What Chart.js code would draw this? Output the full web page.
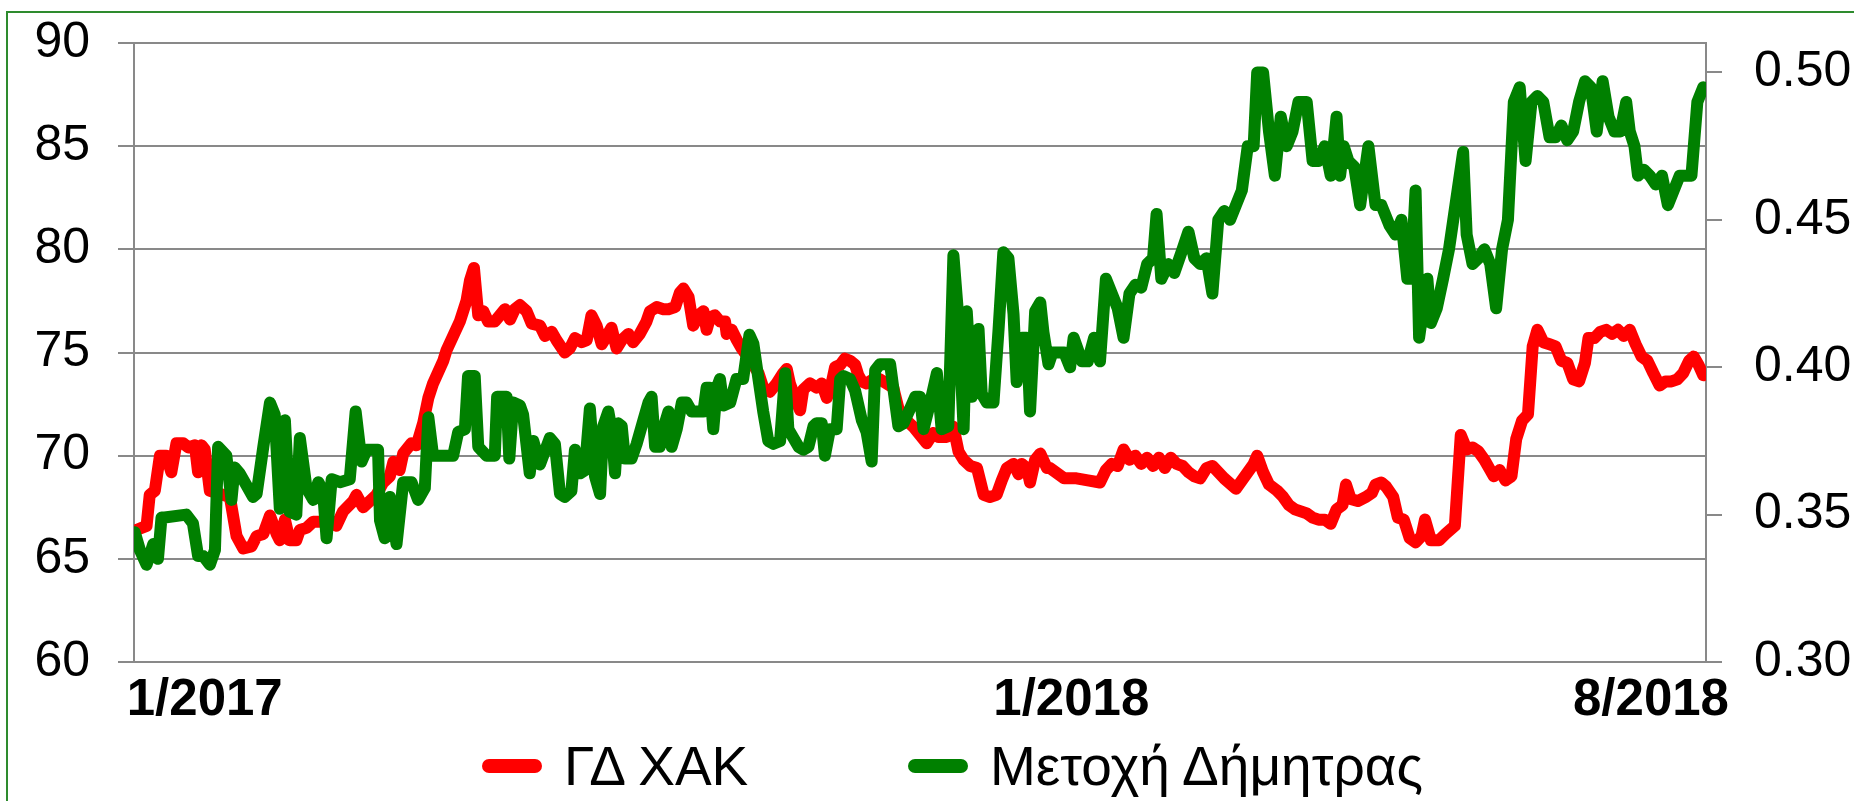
<!DOCTYPE html>
<html>
<head>
<meta charset="utf-8">
<script src="https://cdn.jsdelivr.net/npm/chart.js@4.4.1/dist/chart.umd.min.js"></script>
<style>
  body { margin: 0; background: #fff; }
  #frame { position: absolute; left: 6px; top: 11px; width: 1900px; height: 900px;
           border-left: 2px solid #2e8b2e; border-top: 2px solid #2e8b2e; }
  #wrap { position: absolute; left: 0; top: 0; width: 1854px; height: 801px; }
  #legend { position: absolute; left: 482px; top: 736px; height: 60px; display: flex; align-items: center;
            font-family: 'Liberation Sans', Arial, sans-serif; font-size: 55px; color: #000; }
  .item { display: flex; align-items: center; flex: none; }
  .item:first-child { width: 426px; }
  .swatch { width: 60px; height: 14px; border-radius: 7px; margin-right: 22px; }
</style>
</head>
<body>
<div id="frame"></div>
<div id="wrap"><canvas id="chart" width="1854" height="801"></canvas></div>
<div id="legend"></div>
<script>
// x = trading session counted from the start of January 2017
const tickDays = [18, 238.5, 386];
const tickLabels = ['1/2017', '1/2018', '8/2018'];

// ΓΔ ΧΑΚ (left axis)
const gdDays = [0.6, 3.2, 4.0, 5.3, 6.6, 8.2, 9.5, 10.8, 12.5, 13.8, 15.5, 16.3, 17.2, 18.0, 19.3, 24.4, 26.1, 27.8, 29.9, 31.2,
  32.9, 34.6, 36.3, 37.1, 38.4, 39.6, 41.3, 42.2, 43.9, 45.6, 47.3, 50.7, 51.5, 53.2, 55.8, 56.6, 58.3, 60.0, 61.7, 63.4,
  65.1, 66.0, 67.6, 68.5, 70.6, 71.9, 73.6, 74.9, 76.1, 78.7, 79.5, 81.2, 82.9, 84.6, 85.5, 86.5, 87.6, 88.9, 90.1, 91.8,
  93.1, 94.4, 95.7, 96.9, 98.2, 99.9, 101.2, 103.3, 104.6, 106.3, 107.5, 109.6, 110.9, 112.2, 113.9, 115.2, 116.4, 117.7, 119.0, 120.3,
  121.5, 122.8, 124.1, 125.8, 127.0, 128.7, 130.4, 131.3, 133.0, 134.7, 136.0, 137.7, 138.9, 139.8, 141.1, 142.3, 143.6, 144.9, 145.7, 146.6,
  147.8, 149.1, 150.4, 150.8, 152.1, 153.4, 154.6, 157.6, 158.9, 160.1, 161.8, 163.5, 165.2, 166.1, 166.9, 168.6, 169.5, 170.3, 172.0, 173.7,
  175.0, 176.3, 177.5, 178.4, 179.7, 180.9, 182.2, 183.5, 184.3, 185.2, 186.4, 188.1, 189.8, 193.2, 194.5, 196.6, 198.3, 200.0, 201.7, 203.4,
  204.7, 206.8, 208.5, 209.8, 211.1, 212.8, 214.5, 215.3, 216.2, 217.8, 219.5, 220.8, 222.1, 223.8, 225.1, 225.9, 227.2, 228.0, 229.3, 230.6,
  232.3, 233.1, 236.7, 239.8, 242.7, 245.8, 247.3, 248.8, 250.3, 251.8, 253.3, 254.8, 256.3, 257.8, 259.3, 260.8, 262.3, 263.8, 265.3, 266.8,
  268.3, 269.8, 271.3, 272.9, 274.4, 275.9, 277.4, 280.4, 281.9, 283.4, 284.9, 285.8, 287.3, 288.8, 290.9, 292.4, 293.9, 295.4, 296.9, 298.4,
  299.9, 301.4, 303.0, 304.5, 306.0, 307.5, 308.4, 309.6, 311.4, 313.5, 315.0, 315.9, 317.4, 318.6, 320.4, 321.6, 323.1, 324.6, 326.1, 327.6,
  328.5, 330.0, 332.1, 333.7, 336.1, 337.6, 339.1, 340.6, 342.1, 343.6, 345.1, 346.0, 347.5, 349.0, 350.5, 351.7, 353.2, 354.7, 355.9, 357.1,
  358.6, 360.2, 361.7, 363.2, 364.7, 366.2, 367.7, 369.2, 370.1, 371.6, 373.1, 374.6, 376.1, 377.6, 379.1, 380.6, 382.1, 383.6, 385.1, 386.6,
  388.2, 389.7, 391.2, 392.7, 394.2, 395.7, 396.9, 398.1, 399.3];
const gdValues = [66.4, 66.6, 68.1, 68.3, 70.0, 70.0, 69.2, 70.6, 70.6, 70.4, 70.5, 69.2, 70.5, 70.3, 68.3, 68.0, 66.1, 65.5, 65.6, 66.1,
  66.2, 67.1, 66.2, 65.9, 66.9, 65.9, 65.9, 66.4, 66.5, 66.8, 66.8, 66.8, 66.6, 67.3, 67.8, 68.1, 67.5, 67.8, 68.1, 68.7,
  69.0, 69.7, 69.3, 70.1, 70.6, 70.5, 71.6, 72.8, 73.5, 74.6, 75.1, 75.8, 76.5, 77.5, 78.5, 79.1, 76.8, 77.0, 76.5, 76.5,
  76.8, 77.1, 76.6, 77.1, 77.3, 77.0, 76.4, 76.3, 75.8, 76.0, 75.6, 75.0, 75.2, 75.7, 75.5, 75.6, 76.8, 76.3, 75.4, 75.8,
  76.2, 75.2, 75.6, 75.9, 75.5, 75.9, 76.5, 77.0, 77.2, 77.1, 77.1, 77.2, 77.9, 78.1, 77.7, 76.3, 76.8, 77.0, 76.1, 76.7,
  76.8, 76.5, 76.5, 75.9, 76.1, 75.6, 75.2, 74.4, 74.0, 73.3, 73.1, 73.5, 74.0, 74.2, 73.5, 72.6, 72.2, 73.2, 73.5, 73.3,
  73.5, 72.8, 73.5, 74.3, 74.4, 74.7, 74.6, 74.4, 73.9, 73.6, 73.5, 73.7, 73.7, 73.3, 72.3, 71.7, 71.4, 71.0, 70.6, 71.1,
  70.9, 70.9, 71.4, 70.2, 69.8, 69.5, 69.4, 68.8, 68.1, 68.0, 68.1, 68.8, 69.4, 69.6, 69.1, 69.6, 69.4, 68.7, 69.8, 70.1,
  69.4, 69.4, 68.9, 68.9, 68.8, 68.7, 69.3, 69.6, 69.5, 70.3, 69.8, 70.0, 69.6, 69.9, 69.5, 69.9, 69.4, 69.9, 69.6, 69.5,
  69.2, 69.0, 68.9, 69.4, 69.5, 69.2, 68.9, 68.4, 68.8, 69.2, 69.6, 70.0, 69.2, 68.6, 68.3, 68.0, 67.6, 67.4, 67.3, 67.2,
  67.0, 66.9, 66.9, 66.7, 67.4, 67.6, 68.6, 67.9, 67.8, 68.0, 68.2, 68.6, 68.7, 68.5, 68.0, 67.0, 66.9, 66.0, 65.8, 66.1,
  66.9, 65.9, 65.9, 66.2, 66.6, 71.0, 70.3, 70.4, 70.2, 69.8, 69.3, 69.0, 69.3, 68.8, 69.0, 70.8, 71.7, 72.0, 75.3, 76.1,
  75.5, 75.4, 75.3, 74.6, 74.5, 73.7, 73.6, 74.5, 75.7, 75.7, 76.0, 76.1, 75.9, 76.1, 75.8, 76.1, 75.4, 74.8, 74.6, 74.0,
  73.4, 73.6, 73.6, 73.7, 74.0, 74.6, 74.8, 74.4, 73.9];

// Μετοχή Δήμητρας (right axis)
const shareDays = [0.2, 1.5, 3.2, 4.9, 6.1, 7.0, 7.8, 13.3, 15.0, 16.3, 17.6, 19.3, 20.6, 21.4, 23.5, 24.8, 25.6, 26.9, 30.3, 31.2,
  32.9, 34.6, 35.8, 37.1, 38.4, 39.6, 41.3, 42.2, 43.9, 45.6, 46.9, 48.1, 49.0, 50.3, 52.4, 54.9, 56.4, 57.9, 59.2, 62.1,
  62.6, 63.8, 65.1, 66.8, 68.5, 70.6, 72.3, 74.0, 74.9, 76.1, 81.2, 82.5, 84.2, 85.0, 86.7, 87.6, 89.7, 91.8, 92.4, 94.8,
  95.5, 96.5, 98.2, 99.0, 100.7, 101.6, 103.3, 105.8, 107.1, 108.4, 109.6, 111.3, 112.2, 113.5, 114.7, 116.0, 117.3, 118.6, 119.4, 120.7,
  121.5, 122.4, 123.2, 124.1, 124.9, 126.6, 127.9, 129.6, 130.9, 131.7, 132.6, 133.8, 135.1, 136.0, 136.8, 138.1, 139.4, 140.6, 141.9, 144.9,
  145.7, 146.6, 147.4, 148.3, 149.1, 150.0, 151.7, 153.3, 155.0, 156.6, 157.6, 158.9, 160.1, 161.4, 162.7, 164.4, 165.7, 166.5, 167.8, 169.1,
  170.3, 171.6, 172.9, 173.7, 175.0, 175.8, 177.1, 178.8, 179.7, 180.5, 182.2, 183.5, 185.2, 186.4, 187.7, 188.6, 189.8, 192.4, 193.7, 194.5,
  195.8, 197.5, 198.8, 200.0, 200.9, 202.6, 204.3, 205.5, 207.2, 208.5, 209.8, 211.1, 211.9, 213.2, 214.9, 215.7, 217.0, 218.7, 220.0, 221.2,
  222.5, 223.8, 224.6, 225.9, 227.2, 228.0, 229.3, 230.6, 231.4, 232.7, 233.7, 236.7, 238.2, 239.1, 241.2, 242.7, 244.3, 245.8, 247.3, 248.8,
  250.3, 251.8, 253.3, 254.8, 256.3, 257.8, 259.3, 260.2, 261.4, 263.2, 264.7, 266.8, 268.3, 269.8, 271.3, 272.9, 274.4, 275.9, 277.4, 278.9,
  280.4, 281.9, 283.4, 284.9, 285.8, 287.3, 288.8, 290.3, 291.8, 293.3, 294.8, 296.3, 298.4, 299.9, 301.4, 303.0, 304.5, 306.0, 306.9, 307.8,
  309.0, 310.5, 312.0, 314.1, 315.9, 317.4, 319.5, 321.0, 322.5, 324.0, 324.9, 326.1, 327.0, 329.1, 330.0, 331.5, 333.1, 334.6, 338.2, 339.1,
  340.6, 342.1, 343.6, 345.1, 346.6, 348.1, 349.6, 351.1, 352.6, 354.1, 355.6, 357.1, 358.6, 360.2, 361.7, 363.2, 364.7, 366.2, 367.7, 369.2,
  370.7, 372.2, 373.7, 375.2, 376.7, 378.2, 379.7, 380.6, 381.8, 382.7, 384.2, 385.7, 387.2, 388.8, 390.3, 391.8, 393.3, 394.8, 396.3, 397.8,
  399.3];
const shareValues = [0.344, 0.338, 0.333, 0.340, 0.335, 0.349, 0.349, 0.350, 0.347, 0.336, 0.336, 0.333, 0.338, 0.373, 0.370, 0.355, 0.366, 0.364, 0.356, 0.357,
  0.373, 0.388, 0.384, 0.352, 0.382, 0.351, 0.350, 0.376, 0.359, 0.355, 0.361, 0.358, 0.342, 0.362, 0.361, 0.362, 0.385, 0.368, 0.372, 0.372,
  0.348, 0.342, 0.356, 0.340, 0.361, 0.361, 0.355, 0.359, 0.383, 0.370, 0.370, 0.378, 0.379, 0.397, 0.397, 0.373, 0.370, 0.370, 0.390, 0.390,
  0.369, 0.388, 0.387, 0.384, 0.364, 0.375, 0.367, 0.376, 0.374, 0.357, 0.356, 0.358, 0.372, 0.364, 0.365, 0.386, 0.363, 0.357, 0.380, 0.385,
  0.379, 0.364, 0.381, 0.380, 0.369, 0.369, 0.374, 0.382, 0.388, 0.390, 0.373, 0.373, 0.381, 0.385, 0.373, 0.379, 0.388, 0.388, 0.385, 0.385,
  0.393, 0.393, 0.379, 0.393, 0.396, 0.387, 0.388, 0.396, 0.396, 0.411, 0.408, 0.396, 0.385, 0.375, 0.374, 0.375, 0.398, 0.379, 0.376, 0.373,
  0.372, 0.373, 0.380, 0.381, 0.381, 0.370, 0.379, 0.379, 0.396, 0.397, 0.396, 0.392, 0.382, 0.378, 0.368, 0.399, 0.401, 0.401, 0.388, 0.380,
  0.381, 0.386, 0.390, 0.390, 0.379, 0.388, 0.398, 0.379, 0.380, 0.438, 0.416, 0.379, 0.419, 0.390, 0.413, 0.391, 0.388, 0.388, 0.413, 0.439,
  0.437, 0.418, 0.395, 0.410, 0.410, 0.385, 0.419, 0.422, 0.412, 0.401, 0.405, 0.405, 0.400, 0.410, 0.402, 0.402, 0.410, 0.402, 0.430, 0.425,
  0.420, 0.410, 0.425, 0.428, 0.427, 0.435, 0.437, 0.452, 0.430, 0.435, 0.432, 0.440, 0.446, 0.437, 0.435, 0.437, 0.425, 0.450, 0.453, 0.450,
  0.455, 0.460, 0.475, 0.475, 0.500, 0.500, 0.480, 0.465, 0.485, 0.475, 0.480, 0.490, 0.490, 0.470, 0.470, 0.475, 0.465, 0.485, 0.465, 0.475,
  0.470, 0.468, 0.455, 0.475, 0.455, 0.455, 0.448, 0.445, 0.450, 0.430, 0.430, 0.460, 0.410, 0.430, 0.415, 0.420, 0.430, 0.440, 0.473, 0.445,
  0.435, 0.437, 0.440, 0.435, 0.420, 0.440, 0.450, 0.490, 0.495, 0.470, 0.490, 0.492, 0.490, 0.478, 0.478, 0.482, 0.477, 0.480, 0.490, 0.497,
  0.495, 0.480, 0.497, 0.485, 0.480, 0.480, 0.490, 0.480, 0.475, 0.465, 0.467, 0.465, 0.462, 0.465, 0.455, 0.460, 0.465, 0.465, 0.465, 0.490,
  0.495];

const leftRange = [60, 90];
const rightRange = [0.30, 0.51];

const fontFamily = "'Liberation Sans', Arial, sans-serif";
const gridColor = '#898989';

function toPoints(days, values) {
  return days.map((d, i) => ({ x: d, y: values[i] }));
}

// keep the plot box where the picture has it, whatever the label sizes are
function noPadding(s) {
  s.paddingTop = 0;
  s.paddingBottom = 0;
  s.paddingLeft = 0;
  s.paddingRight = 0;
}

const chart = new Chart(document.getElementById('chart').getContext('2d'), {
  type: 'line',
  data: {
    datasets: [{
      label: 'ΓΔ ΧΑΚ',
      data: toPoints(gdDays, gdValues),
      yAxisID: 'y',
      borderColor: '#ff0000',
      order: 2
    }, {
      label: 'Μετοχή Δήμητρας',
      data: toPoints(shareDays, shareValues),
      yAxisID: 'y1',
      borderColor: '#008000',
      order: 1
    }]
  },
  options: {
    responsive: false,
    animation: false,
    layout: { padding: { top: 43, left: 0, right: 0, bottom: 0 } },
    elements: {
      line: { borderWidth: 12, tension: 0, borderJoinStyle: 'round', borderCapStyle: 'round', fill: false },
      point: { radius: 0 }
    },
    plugins: { legend: { display: false }, tooltip: { enabled: false } },
    scales: {
      x: {
        type: 'linear', min: 0, max: 400,
        grid: { display: false, drawTicks: false },
        border: { display: false },
        afterBuildTicks: (s) => { s.ticks = tickDays.map(v => ({ value: v })); },
        afterFit: (s) => { s.height = 139; noPadding(s); },
        ticks: {
          autoSkip: false, maxRotation: 0, padding: 8, color: '#000',
          font: { family: fontFamily, size: 51, weight: 'bold' },
          callback: (v, i) => tickLabels[i]
        }
      },
      y: {
        position: 'left', min: leftRange[0], max: leftRange[1],
        grid: { color: gridColor, lineWidth: 2, tickLength: 16 },
        border: { color: gridColor, width: 2 },
        afterFit: (s) => { s.width = 134; noPadding(s); },
        ticks: { stepSize: 5, padding: 28, color: '#000', font: { family: fontFamily, size: 50 } }
      },
      y1: {
        position: 'right', min: rightRange[0], max: rightRange[1],
        grid: { drawOnChartArea: false, color: gridColor, lineWidth: 2, tickLength: 16 },
        border: { color: gridColor, width: 2 },
        afterFit: (s) => { s.width = 148; noPadding(s); },
        ticks: {
          stepSize: 0.05, includeBounds: false, padding: 32, color: '#000',
          font: { family: fontFamily, size: 50 },
          callback: (v) => v.toFixed(2)
        }
      }
    }
  }
});

// legend built from the datasets
const legendBox = document.getElementById('legend');
chart.data.datasets.forEach(ds => {
  const item = document.createElement('div');
  item.className = 'item';
  const sw = document.createElement('span');
  sw.className = 'swatch';
  sw.style.background = ds.borderColor;
  const txt = document.createElement('span');
  txt.textContent = ds.label;
  item.appendChild(sw);
  item.appendChild(txt);
  legendBox.appendChild(item);
});
</script>
</body>
</html>
